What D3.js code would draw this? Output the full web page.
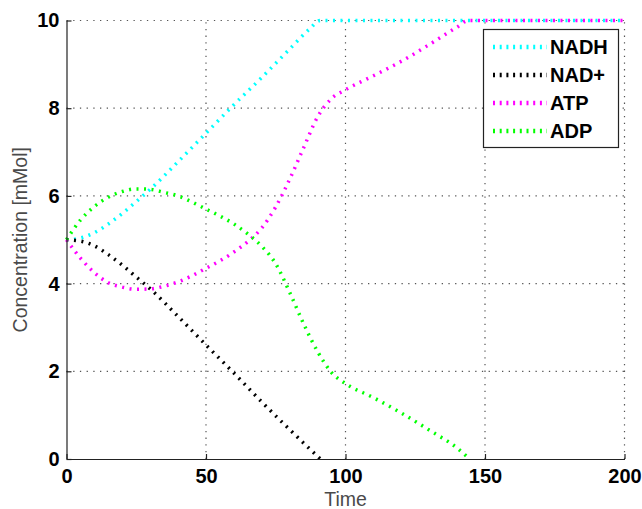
<!DOCTYPE html>
<html>
<head>
<meta charset="utf-8">
<script src="https://cdn.jsdelivr.net/npm/d3@7"></script>
<style>
  body { margin: 0; background: #fff; }
  svg { display: block; }
  text { font-family: "Liberation Sans", Arial, sans-serif; }
</style>
</head>
<body>
<div id="chart"></div>
<script>
const fullwidth = 642;
const fullheight = 509;
const margin = { left: 66.5, right: 17.5, top: 20.5, bottom: 50 };

// series (time, concentration)
const nadhTime = [0, 5, 10, 15, 20, 25, 30, 40, 50, 60, 70, 80, 87, 91, 200];
const nadhValues = [5.0, 5.04, 5.16, 5.36, 5.6, 5.87, 6.15, 6.78, 7.43, 8.08, 8.7, 9.35, 9.8, 10, 10];

const nadTime = [0, 5, 10, 15, 20, 25, 30, 40, 50, 60, 70, 80, 87, 91];
const nadValues = [5.0, 4.97, 4.86, 4.66, 4.42, 4.15, 3.88, 3.25, 2.6, 1.96, 1.3, 0.67, 0.24, 0];

const atpTime = [0, 5, 10, 15, 20, 25, 30, 35, 40, 45, 50, 55, 60, 65, 70, 75, 80, 85, 90, 95, 100, 110, 120, 130, 140, 144, 200];
const atpValues = [5.0, 4.58, 4.25, 4.02, 3.92, 3.87, 3.88, 3.94, 4.04, 4.18, 4.35, 4.52, 4.72, 4.96, 5.27, 5.75, 6.38, 7.1, 7.8, 8.22, 8.42, 8.74, 9.07, 9.45, 9.85, 10, 10];

const adpTime = [0, 5, 10, 15, 20, 25, 30, 35, 40, 45, 50, 55, 60, 65, 70, 75, 80, 85, 90, 95, 100, 110, 120, 130, 140, 144.5];
const adpValues = [5.0, 5.45, 5.76, 5.97, 6.1, 6.16, 6.15, 6.08, 6.0, 5.86, 5.7, 5.54, 5.36, 5.13, 4.85, 4.45, 3.8, 3.08, 2.45, 1.97, 1.72, 1.4, 1.05, 0.66, 0.25, 0];

const seriesNames = ["NADH", "NAD+", "ATP", "ADP"];
const seriesColors = ["#00ffff", "#000000", "#ff00ff", "#00ff00"];
const xTicks = [0, 50, 100, 150, 200];
const yTicks = [0, 2, 4, 6, 8, 10];

const series = [
  { name: seriesNames[0], color: seriesColors[0], t: nadhTime, v: nadhValues },
  { name: seriesNames[1], color: seriesColors[1], t: nadTime, v: nadValues },
  { name: seriesNames[2], color: seriesColors[2], t: atpTime, v: atpValues },
  { name: seriesNames[3], color: seriesColors[3], t: adpTime, v: adpValues }
];

const svg = d3.select("#chart")
  .append("svg")
  .attr("width", fullwidth)
  .attr("height", fullheight);

const x = d3.scaleLinear().domain([0, 200]).range([margin.left, fullwidth - margin.right]);
const y = d3.scaleLinear().domain([0, 10]).range([fullheight - margin.bottom, margin.top]);

// grid (dotted)
const grid = svg.append("g").attr("class", "grid")
  .attr("stroke", "#555")
  .attr("stroke-width", 1.2)
  .attr("stroke-dasharray", "1.3,5.4");
grid.selectAll(".gx")
  .data(xTicks.filter(d => d > 0))
  .enter().append("line")
  .attr("x1", d => x(d)).attr("x2", d => x(d))
  .attr("y1", y(0)).attr("y2", y(10));
grid.selectAll(".gy")
  .data(yTicks.filter(d => d > 0))
  .enter().append("line")
  .attr("x1", x(0)).attr("x2", x(200))
  .attr("y1", d => y(d)).attr("y2", d => y(d));

// curves
const line = d3.line()
  .x(d => x(d[0]))
  .y(d => y(d[1]))
  .curve(d3.curveMonotoneX);

svg.append("g").selectAll("path")
  .data(series)
  .enter().append("path")
  .attr("fill", "none")
  .attr("stroke", d => d.color)
  .attr("stroke-width", 3.5)
  .attr("stroke-dasharray", "2,5.5")
  .attr("d", d => line(d.t.map((t, i) => [t, d.v[i]])));

// axes
const xAxis = d3.axisBottom(x).tickValues(xTicks).tickSizeInner(-5).tickSizeOuter(0).tickPadding(10);
const yAxis = d3.axisLeft(y).tickValues(yTicks).tickSizeInner(-5).tickSizeOuter(0).tickPadding(7);

const gx = svg.append("g")
  .attr("transform", `translate(0,${y(0)})`)
  .call(xAxis);
const gy = svg.append("g")
  .attr("transform", `translate(${x(0)},0)`)
  .call(yAxis);

[gx, gy].forEach(g => {
  g.select(".domain").attr("stroke", "#222").attr("stroke-width", 1.2);
  g.selectAll(".tick line").attr("stroke", "#222").attr("stroke-width", 1.2);
  g.selectAll(".tick text")
    .attr("fill", "#000")
    .style("font-size", "20px")
    .style("font-weight", "bold")
    .style("font-family", "'Liberation Sans', Arial, sans-serif");
});
gx.selectAll(".tick text").attr("dy", "0.71em");

// axis labels
svg.append("text")
  .attr("x", (x(0) + x(200)) / 2)
  .attr("y", 506)
  .attr("text-anchor", "middle")
  .attr("fill", "#4a4a4a")
  .style("font-size", "19.5px")
  .text("Time");

svg.append("text")
  .attr("transform", `translate(27,${(y(0) + y(10)) / 2}) rotate(-90)`)
  .attr("text-anchor", "middle")
  .attr("fill", "#4a4a4a")
  .style("font-size", "19.5px")
  .text("Concentration [mMol]");

// legend
const legend = svg.append("g").attr("class", "legend");
legend.append("rect")
  .attr("x", 483.5).attr("y", 29.5)
  .attr("width", 135).attr("height", 118)
  .attr("fill", "#fff")
  .attr("stroke", "#222")
  .attr("stroke-width", 1.2);

const entries = legend.selectAll(".entry")
  .data(series)
  .enter().append("g")
  .attr("transform", (d, i) => `translate(0,${47 + i * 28})`);
entries.append("line")
  .attr("x1", 493).attr("x2", 547)
  .attr("y1", 0).attr("y2", 0)
  .attr("stroke", d => d.color)
  .attr("stroke-width", 4.5)
  .attr("stroke-dasharray", "2,4.7");
entries.append("text")
  .attr("x", 550)
  .attr("y", 0)
  .attr("dy", "0.36em")
  .attr("fill", "#000")
  .style("font-size", "20px")
  .style("font-weight", "bold")
  .text(d => d.name);
</script>
</body>
</html>
